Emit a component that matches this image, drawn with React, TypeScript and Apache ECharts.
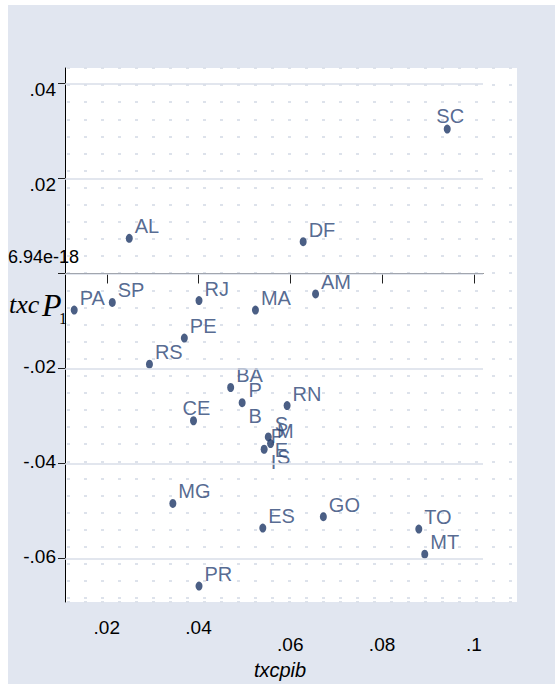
import React, { useEffect, useRef } from "react";
import * as echarts from "echarts";

// State codes and their two coordinates
const states = ["SC", "AL", "DF", "PA", "SP", "RJ", "MA", "AM", "PE", "RS", "BA", "PB", "RN", "CE", "SE", "MS", "PI", "MG", "ES", "GO", "TO", "MT", "PR"];
const txcpib = [0.0942, 0.0249, 0.0628, 0.0129, 0.0212, 0.0401, 0.0524, 0.0655, 0.0369, 0.0293, 0.0470, 0.0495, 0.0593, 0.0389, 0.0552, 0.0557, 0.0543, 0.0344, 0.0540, 0.0672, 0.0880, 0.0893, 0.0401];
const txcP1 = [0.0304, 0.0074, 0.0067, -0.0077, -0.0061, -0.0057, -0.0077, -0.0043, -0.0136, -0.0191, -0.0240, -0.0272, -0.0278, -0.0310, -0.0344, -0.0358, -0.0370, -0.0484, -0.0536, -0.0512, -0.0538, -0.0591, -0.0658];

// Axis ticks and their printed labels
const xTicks = [0.02, 0.04, 0.06, 0.08, 0.1];
const xTickLabels = [".02", ".04", ".06", ".08", ".1"];
const yTicks = [-0.06, -0.04, -0.02, 0, 0.02, 0.04];
const yTickLabels = ["-.06", "-.04", "-.02", "6.94e-18", ".02", ".04"];

const X_MIN = 0.0109;
const X_MAX = 0.102;
const Y_MIN = -0.06916;
const Y_MAX = 0.04326;

const NAVY = "#1e3767";
const LABEL_NAVY = "#2a4475";
const SANS = '"Liberation Sans", Arial, sans-serif';
const SERIF = '"Liberation Serif", "Times New Roman", serif';
const TICK_FONT = 19;

// Marker label placement
const TOP_LABELS = new Set(["SC", "CE"]);
const STACKED_LABELS = new Set(["PB", "SE", "MS", "PI"]);

const nearestIndex = (arr: number[], v: number) => {
  let best = 0;
  for (let i = 1; i < arr.length; i++) if (Math.abs(arr[i] - v) < Math.abs(arr[best] - v)) best = i;
  return best;
};

const labelFor = (s: string) => {
  if (TOP_LABELS.has(s)) return { position: "inside", offset: [3, -13] };
  if (STACKED_LABELS.has(s)) return { position: "right", distance: 3, offset: [0, 0], lineHeight: 26 };
  return { position: "right", distance: 2, offset: [0, -12] };
};

const buildOption = () => ({
  animation: false,
  graphic: [
    {
      type: "rect",
      z: -10,
      silent: true,
      shape: { x: 8, y: 5, width: 547, height: 679 },
      style: { fill: "#e1e6f0" },
    },
    {
      type: "text",
      x: 9,
      y: 304,
      style: { text: "txc", fontFamily: SERIF, fontStyle: "italic", fontSize: 26, fill: "#000", verticalAlign: "middle" },
    },
    {
      type: "text",
      x: 42,
      y: 305,
      style: { text: "P", fontFamily: SERIF, fontStyle: "italic", fontSize: 32, fill: "#000", verticalAlign: "middle" },
    },
    {
      type: "text",
      x: 59,
      y: 318,
      style: { text: "1", fontFamily: SERIF, fontSize: 16, fill: "#000", verticalAlign: "middle" },
    },
    {
      type: "text",
      x: 280,
      y: 670,
      style: { text: "txcpib", fontFamily: SANS, fontStyle: "italic", fontSize: 20, fill: "#000", align: "center", verticalAlign: "middle" },
    },
  ],
  grid: [
    { left: 65, top: 68, width: 418, height: 534, containLabel: false },
    { left: 65, top: 68, width: 452, height: 534, show: true, backgroundColor: "#ffffff", borderWidth: 0 },
  ],
  xAxis: [
    {
      type: "value",
      gridIndex: 0,
      min: X_MIN,
      max: X_MAX,
      axisLine: { show: true, lineStyle: { color: "#000", width: 1 } },
      axisTick: { show: true, length: 10, customValues: xTicks, lineStyle: { color: "#222" } },
      axisLabel: {
        customValues: xTicks,
        margin: 16,
        color: "#000",
        fontFamily: SANS,
        fontSize: TICK_FONT,
        formatter: (v: number) => {
          const i = nearestIndex(xTicks, v);
          return i >= 2 ? `{lo|${xTickLabels[i]}}` : `{hi|${xTickLabels[i]}}`;
        },
        rich: {
          hi: { fontFamily: SANS, fontSize: TICK_FONT, color: "#000" },
          lo: { fontFamily: SANS, fontSize: TICK_FONT, color: "#000", padding: [17, 0, 0, 0] },
        },
      },
      splitLine: { show: false },
    },
    {
      type: "value",
      gridIndex: 1,
      min: 0,
      max: 1,
      axisLine: { show: false },
      axisTick: { show: false },
      axisLabel: { show: false },
      splitLine: { show: false },
    },
  ],
  yAxis: [
    {
      type: "value",
      gridIndex: 0,
      min: Y_MIN,
      max: Y_MAX,
      axisLine: { show: true, lineStyle: { color: "#000", width: 1 } },
      axisTick: { show: true, length: 7, customValues: yTicks, lineStyle: { color: "#222" } },
      axisLabel: {
        customValues: yTicks.filter((v) => v !== 0),
        margin: 9,
        color: "#000",
        fontFamily: SANS,
        fontSize: TICK_FONT,
        formatter: (v: number) => {
          const i = nearestIndex(yTicks, v);
          return yTicks[i] > 0 ? `{pos|${yTickLabels[i]}}` : `{neg|${yTickLabels[i]}}`;
        },
        rich: {
          pos: { fontFamily: SANS, fontSize: TICK_FONT, color: "#000", padding: [13, 0, 0, 0] },
          neg: { fontFamily: SANS, fontSize: TICK_FONT, color: "#000", padding: [0, 0, 3, 0] },
        },
      },
      splitLine: { show: false },
    },
    {
      // zero label printed with its raw floating value, set apart from the others
      type: "value",
      gridIndex: 0,
      position: "left",
      min: Y_MIN,
      max: Y_MAX,
      axisLine: { show: false },
      axisTick: { show: false },
      axisLabel: {
        customValues: [0],
        align: "left",
        verticalAlign: "bottom",
        margin: 57,
        padding: [0, 0, 7, 0],
        color: "#000",
        fontFamily: SANS,
        fontSize: 18,
        formatter: (v: number) => yTickLabels[nearestIndex(yTicks, v)],
      },
      splitLine: { show: false },
    },
    {
      // dotted background lattice of the plot region
      type: "value",
      gridIndex: 1,
      inverse: true,
      min: 0,
      max: 534,
      interval: 17.1,
      axisLine: { show: false },
      axisTick: { show: false },
      axisLabel: { show: false },
      splitLine: {
        show: true,
        lineStyle: { color: "#dde2eb", width: 2, type: [3, 14], dashOffset: 15 },
      },
    },
  ],
  series: [
    {
      // major horizontal gridlines
      type: "scatter",
      xAxisIndex: 0,
      yAxisIndex: 0,
      data: [],
      z: 1,
      silent: true,
      markLine: {
        silent: true,
        symbol: ["none", "none"],
        label: { show: false },
        emphasis: { disabled: true },
        lineStyle: { color: "#d9dee9", width: 1.5, type: "solid" },
        data: yTicks.map((v) => ({ yAxis: v })),
      },
    },
    {
      type: "scatter",
      xAxisIndex: 0,
      yAxisIndex: 0,
      z: 3,
      symbol: "circle",
      symbolSize: [7, 9],
      itemStyle: { color: NAVY },
      emphasis: { disabled: true },
      label: {
        show: true,
        color: LABEL_NAVY,
        fontFamily: SANS,
        fontSize: 20,
        formatter: (p: any) => (STACKED_LABELS.has(p.name) ? p.name.split("").join("\n") : p.name),
      },
      data: states.map((s, i) => ({
        name: s,
        value: [txcpib[i], txcP1[i]],
        label: labelFor(s),
      })),
    },
  ],
});

export default function App() {
  const ref = useRef<HTMLDivElement>(null);
  useEffect(() => {
    if (!ref.current) return;
    const chart = echarts.init(ref.current, null, { renderer: "svg" });
    chart.setOption(buildOption() as any);
    return () => chart.dispose();
  }, []);
  return <div ref={ref} style={{ position: "absolute", left: 0, top: 0, width: 555, height: 684 }} />;
}
